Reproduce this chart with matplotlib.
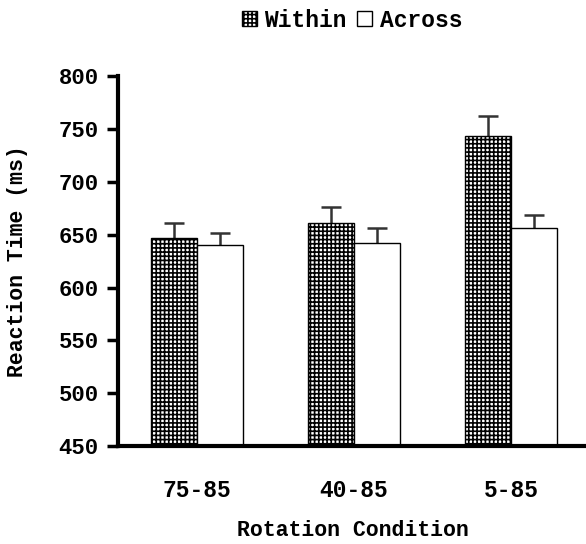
import numpy as np
import matplotlib.pyplot as plt
from matplotlib.patches import Patch

# === Data ===
conditions = ["75-85", "40-85", "5-85"]
within = [647, 661, 743]
across = [640, 642, 656]
within_err = [14, 15, 19]
across_err = [12, 14, 13]

plt.rcParams['font.family'] = ['Liberation Mono', 'DejaVu Sans Mono']
plt.rcParams['font.weight'] = 'bold'
plt.rcParams['hatch.linewidth'] = 1.2

fig = plt.figure(figsize=(5.86, 5.44), dpi=100)
ax = fig.add_axes([0.2014, 0.180, 0.80, 0.680])

x = np.arange(len(conditions))
w = 0.293

ax.bar(x - w / 2, within, w, bottom=0, color='white', edgecolor='black',
       hatch='++++', linewidth=1.0, zorder=2)
ax.bar(x + w / 2, across, w, bottom=0, color='white', edgecolor='black',
       linewidth=1.0, zorder=2)

# upper-only error bars with a cap at the top end
for pos, vals, errs in [(x - w / 2, within, within_err), (x + w / 2, across, across_err)]:
    eb = ax.errorbar(pos, vals, yerr=[np.zeros(3), errs], fmt='none',
                     ecolor='#333333', elinewidth=1.8, capsize=7, capthick=1.8, zorder=1)
    eb[1][0].set_visible(False)

ax.set_ylim(450, 800)
ax.set_xlim(-0.5, 2.48)
ax.set_yticks(range(450, 801, 50))
ax.set_xticks(x)
ax.set_xticklabels(conditions)
ax.tick_params(axis='y', length=8, width=2.5, labelsize=16, pad=6)
ax.tick_params(axis='x', length=0, labelsize=16.5, pad=24)

for s in ['top', 'right']:
    ax.spines[s].set_visible(False)
for s in ['left', 'bottom']:
    ax.spines[s].set_linewidth(3)

ax.set_ylabel("Reaction Time (ms)", fontsize=15.5, fontweight='bold', labelpad=22)
ax.set_xlabel("Rotation Condition", fontsize=15.5, fontweight='bold', labelpad=13)

handles = [Patch(facecolor='white', edgecolor='black', hatch='++++', label='Within'),
           Patch(facecolor='white', edgecolor='black', label='Across')]
fig.legend(handles=handles, loc='center', bbox_to_anchor=(0.601, 0.963), ncol=2,
           frameon=False, fontsize=16.5, handlelength=0.62, handleheight=0.62,
           handletextpad=0.35, columnspacing=0.45)

fig.savefig("out.png", dpi=100)
